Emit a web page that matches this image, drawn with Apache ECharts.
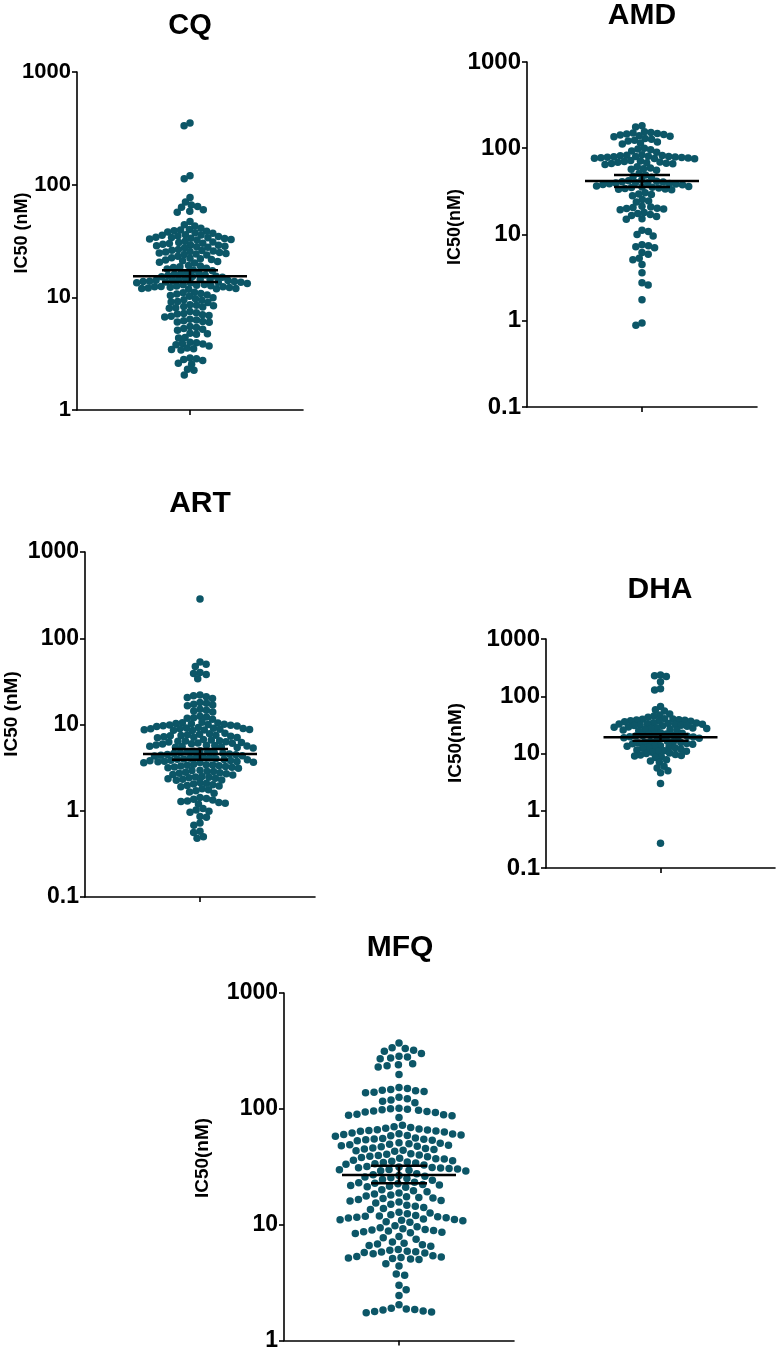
<!DOCTYPE html>
<html><head><meta charset="utf-8">
<script src="https://cdn.jsdelivr.net/npm/echarts@6/dist/echarts.min.js"></script>
<style>html,body{margin:0;padding:0;background:#fff}#c{width:778px;height:1352px}</style>
</head><body><div id="c"></div>
<script>
// ---------------- data ----------------
const panelNames = ['CQ', 'AMD', 'ART', 'DHA', 'MFQ'];
const axisNames = ['IC50 (nM)', 'IC50(nM)', 'IC50 (nM)', 'IC50(nM)', 'IC50(nM)'];

const cqTicks = [1, 10, 100, 1000];
const amdTicks = [0.1, 1, 10, 100, 1000];
const artTicks = [0.1, 1, 10, 100, 1000];
const dhaTicks = [0.1, 1, 10, 100, 1000];
const mfqTicks = [1, 10, 100, 1000];

const cqValues = [353, 334, 120, 113, 77, 70, 66, 64, 63, 60, 58, 57, 47, 44, 43, 41, 40, 39.5, 39, 38.5, 38, 37.5, 37,
  36, 35.8, 35.5, 35, 34.6, 34.2, 34, 33.8, 33.5, 33.2, 33, 32.6, 32.2, 31.5, 31, 30.6, 30.2, 30, 29.6, 29.2, 29, 28.7, 28.4, 28.1, 27.8,
  27.5, 26.6, 26.2, 26, 25.8, 25.5, 25.2, 25, 24.7, 24.5, 24.3, 24, 23.8, 23.2, 22.5, 22.2, 22, 21.7, 21.4, 21.1, 20.8, 20.5, 20.2,
  19.2, 19, 18.7, 18.4, 18.1, 17.8, 17.5, 17.2, 16.6, 16.4, 16.2, 16, 15.8, 15.6, 15.4, 15.3, 15.2, 15.1,
  14.6, 14.5, 14.4, 14.3, 14.2, 14.1, 14, 13.9, 13.8, 13.8, 13.7, 13.6, 13.6, 13.5, 13.4, 13.3,
  13, 12.9, 12.8, 12.7, 12.6, 12.5, 12.4, 12.4, 12.3, 12.2, 12.1, 12, 12, 11.9, 11.8,
  11.1, 11, 10.8, 10.7, 10.5, 10.4, 10.2, 9.9, 9.7, 9.5, 9.4, 9.2, 9.1, 9, 8.6, 8.5, 8.4, 8.3, 8.2, 8.1, 8,
  7.5, 7.3, 7.2, 7.1, 7, 6.9, 6.8, 6.7, 6.4, 6.3, 6.2, 6.1, 6.05, 6, 5.5, 5.4, 5.3, 5.2, 5.1,
  4.8, 4.75, 4.7, 4.4, 4.35, 4.0, 3.95, 3.9, 3.85, 3.8, 3.7, 3.55, 3.5, 3.45, 3.4,
  2.9, 2.85, 2.8, 2.75, 2.6, 2.55, 2.3, 2.25, 2.05];

const amdValues = [182, 176, 155, 152, 150, 148, 146, 144, 142, 140, 138, 136, 130, 127, 124, 121, 118, 115, 112,
  100, 98, 96, 93, 90, 84, 83, 82.5, 82, 81, 80.5, 80, 79.5, 79, 78.5, 78, 77.5, 77, 76.5, 76, 75.5,
  72, 71, 70, 69.5, 69, 68, 67, 66.5, 66, 65, 61, 59, 58, 57, 55.5, 51, 49, 47.5, 46,
  42.5, 42, 41.5, 41, 40.5, 40, 39.8, 39.5, 39, 38.8, 38.5, 38, 37.8, 36.5, 36, 35.5, 35.2, 35, 34.6, 34.2, 33.8, 33.4, 33,
  30.5, 29.5, 29, 28.2, 25.5, 24.5, 23.8, 21.2, 20.8, 20.5, 20.2, 20, 19.7, 19.4, 18, 17.5, 17, 16.6, 16.2, 15.2, 15,
  11.2, 10.8, 10, 9.6, 7.6, 7.4, 7.2, 7.0, 6.2, 5.9, 5.3, 5.1, 4.5, 3.6, 2.75, 2.6, 1.75, 0.94, 0.885];

const artValues = [286, 53, 50, 47, 40, 39, 38, 34, 22, 21.5, 21, 20.5, 20, 18, 17.6, 17.2, 16.8, 16.5, 15, 14.6, 14.3, 14,
  12.5, 12.2, 12, 11.8, 11.5,
  10.6, 10.5, 10.4, 10.3, 10.2, 10.1, 10, 9.9, 9.8, 9.7, 9.6, 9.5,
  9.2, 9.1, 9.05, 9, 8.95, 8.9, 8.8, 8.75, 8.7, 8.65, 8.6, 8.5,
  7.9, 7.8, 7.7, 7.6, 7.5, 7.45, 7.4, 7.3, 7.2, 7.1, 7.05, 7.0,
  6.7, 6.6, 6.5, 6.45, 6.4, 6.3, 6.25, 6.2, 6.1, 6.05, 6.0, 5.95,
  5.8, 5.75, 5.7, 5.65, 5.6, 5.55, 5.5, 5.45, 5.4, 5.35,
  4.95, 4.9, 4.85, 4.8, 4.75, 4.7, 4.65, 4.6, 4.55, 4.5, 4.45, 4.4, 4.35, 4.3, 4.25, 4.2,
  4.1, 4.05, 4.0, 3.98, 3.95, 3.92, 3.9, 3.86, 3.82, 3.8, 3.76, 3.72, 3.7, 3.66, 3.62, 3.6,
  3.45, 3.42, 3.4, 3.36, 3.32, 3.3, 3.26, 3.22, 3.2, 3.16, 3.12,
  2.95, 2.92, 2.88, 2.85, 2.8, 2.76, 2.72, 2.68, 2.64, 2.6,
  2.5, 2.47, 2.44, 2.41, 2.38, 2.35, 2.32, 2.28, 2.25,
  2.12, 2.08, 2.04, 2.0, 1.96, 1.93, 1.9, 1.8, 1.75, 1.7, 1.65, 1.6,
  1.42, 1.39, 1.36, 1.33, 1.3, 1.28, 1.25, 1.22, 1.2, 1.06, 1.02, 0.99, 0.96,
  0.86, 0.84, 0.72, 0.68, 0.58, 0.56, 0.5, 0.48];

const dhaValues = [235, 228, 222, 180, 135, 128, 66, 58, 55, 49, 47, 45, 43,
  40.5, 40, 39.5, 39, 38.5, 38, 37.5, 37, 36.5, 36,
  34.5, 34, 33.5, 33.2, 32.8, 32.4, 32, 31.6, 31.2, 30.8, 30.4, 30,
  29, 28.6, 28.2, 27.8, 27.4, 27, 26.6, 26.2, 25.8, 25.4, 25,
  23, 22.6, 22.2, 21.8, 21.4, 21, 20.6, 20.3, 20, 19.7, 19.4, 19.1, 18.8, 18.5, 18.2,
  16.6, 16.4, 16.2, 16, 15.8, 15.5, 15.2, 15, 14.8, 14.5,
  13.6, 13.4, 13.2, 13, 12.8, 12.6, 12.3, 12,
  11.5, 11.2, 11, 10.8, 10.5, 10.2, 10,
  9.6, 9.4, 9.2, 9, 8.8, 8.5, 7.8, 7.4, 7, 6, 5.6, 5, 4.6, 3, 0.27];

const mfqValues = [371, 336, 331, 321, 314, 300, 284, 280, 275, 271, 245, 240, 236, 230, 198,
  153, 150, 147, 145, 143, 141, 139, 138, 126, 122, 119, 116, 113,
  101, 100, 99, 98, 97, 96, 95, 94, 93, 90, 89, 88, 87, 84,
  72, 70, 69, 68, 67, 66, 65.5, 65, 64.5, 64, 63, 62,
  61, 60.5, 60, 59.5, 59, 58.5, 58, 56, 55.5, 55, 54.5, 54, 53.5, 53,
  51, 50.5, 50, 49.5, 49, 48.5, 48, 47.5, 47, 46, 45.5, 45, 44.5, 44, 43.5, 43,
  41, 40.5, 40, 39.5, 39, 38.5, 38, 37.5, 37, 36.8, 36, 35.6, 35.2, 34.8, 34.4, 34, 33.6, 33.2, 32.8,
  31.8, 31.5, 31.2, 31, 30.8, 30.5, 30.2, 30, 29.8, 29.5, 29.2, 29,
  27.5, 27, 26.6, 26.2, 25.8, 25.4, 25, 24.6, 24.2,
  23.2, 23, 22.8, 22.5, 22.2, 22, 21.8, 21.5, 21.2, 21,
  20, 19.6, 19.2, 18.8, 18.4, 18, 17.7, 17.4, 17.2, 17, 16.8, 16.5, 16.2, 16, 15.7, 15.4,
  15, 14.7, 14.4, 14.1, 13.8, 13.5,
  12.8, 12.6, 12.4, 12.2, 12, 11.9, 11.8, 11.7, 11.6, 11.5, 11.4, 11.2, 11.1, 11, 10.9, 10.8, 10.6, 10.5,
  9.8, 9.6, 9.4, 9.2, 9.1, 9, 8.9, 8.8, 8.7, 8.6, 8.5, 8.4, 7.9, 7.7, 7.5,
  7.1, 6.9, 6.8, 6.7, 6.6, 6.5, 6.1, 6, 5.9, 5.85, 5.8, 5.75, 5.7, 5.6,
  5.4, 5.3, 5.25, 5.2, 5.15, 5.1, 5.05, 5, 4.6, 4.4, 3.75, 3.65, 3.0, 2.74, 2.45, 2.04,
  1.9, 1.87, 1.85, 1.83, 1.8, 1.78, 1.76, 1.74];

// mean and error bar (lower / upper)
const meanValues = [15.4, 41.7, 4.55, 19.2, 26.9];
const errLow = [13.7, 35.6, 3.9, 16.7, 22.8];
const errHigh = [17.4, 49, 5.2, 21.6, 32.3];

const allValues = [cqValues, amdValues, artValues, dhaValues, mfqValues];
const allTicks = [cqTicks, amdTicks, artTicks, dhaTicks, mfqTicks];

// ---------------- layout / style ----------------
const FONT = '"Liberation Sans", Arial, Helvetica, sans-serif';
const DOT = '#0c5667';
const layouts = [
  {left: 77, top: 72, width: 226, height: 338, tx: 190, ty: 26, tf: 29, nx: 22, ny: 233, nf: 18, lf: 22, d: 6.5},
  {left: 527, top: 62, width: 230, height: 345, tx: 642, ty: 16, tf: 30, nx: 455, ny: 227, nf: 18, lf: 24, d: 6.5},
  {left: 85, top: 552, width: 230, height: 345, tx: 200, ty: 504, tf: 30, nx: 12, ny: 714, nf: 19, lf: 23, d: 6.5},
  {left: 546, top: 639, width: 229, height: 229, tx: 660, ty: 590, tf: 30, nx: 456, ny: 743, nf: 19, lf: 24, d: 6},
  {left: 284, top: 993, width: 230, height: 348, tx: 400, ty: 948, tf: 30, nx: 203, ny: 1158, nf: 19, lf: 23, d: 8.5}
];
const MEAN_HALF = 57, ERR_HALF = 28;

// beeswarm offsets (pixel units) computed from the axis scale of each panel
function swarm(values, logMin, logMax, heightPx, d) {
  const k = heightPx / (logMax - logMin);
  const pts = values.map(v => ({y: (logMax - Math.log10(v)) * k, x: 0}));
  const order = pts.map((p, i) => i).sort((a, b) => pts[a].y - pts[b].y);
  const placed = [];
  order.forEach((i, n) => {
    const p = pts[i];
    const near = placed.filter(q => Math.abs(q.y - p.y) < d);
    const cands = [0];
    near.forEach(q => {
      const dx = Math.sqrt(d * d - (q.y - p.y) * (q.y - p.y));
      cands.push(q.x + dx, q.x - dx);
    });
    const sgn = n % 2 ? 1 : -1;
    cands.sort((a, b) => (Math.abs(a) - Math.abs(b)) || sgn * (a - b));
    for (const c of cands) {
      if (near.every(q => (q.x - c) * (q.x - c) + (q.y - p.y) * (q.y - p.y) >= d * d - 1e-6)) { p.x = c; break; }
    }
    placed.push(p);
  });
  return pts.map(p => p.x);
}

const grids = [], xAxes = [], yAxes = [], series = [], graphics = [];
layouts.forEach((L, i) => {
  const ticks = allTicks[i];
  const yMin = ticks[0], yMax = ticks[ticks.length - 1];
  grids.push({left: L.left, top: L.top, width: L.width, height: L.height, containLabel: false});
  const half = L.width / 2;
  xAxes.push({
    gridIndex: i, type: 'value', min: -half, max: half,
    axisLine: {show: true, onZero: false, lineStyle: {color: '#000', width: 1.6}},
    axisTick: {show: true, customValues: [0], length: 5, lineStyle: {color: '#000', width: 1.6}},
    axisLabel: {show: false}, splitLine: {show: false}
  });
  yAxes.push({
    gridIndex: i, type: 'log', logBase: 10, min: yMin, max: yMax,
    axisLine: {show: true, onZero: false, lineStyle: {color: '#000', width: 1.6}},
    axisTick: {show: true, length: 5, customValues: ticks, lineStyle: {color: '#000', width: 1.6}},
    axisLabel: {
      customValues: ticks, margin: 6, color: '#000', fontSize: L.lf, fontWeight: 'bold', fontFamily: FONT,
      formatter: v => String(parseFloat(Number(v).toPrecision(4)))
    },
    splitLine: {show: false}, minorTick: {show: false}
  });
  const vals = allValues[i];
  const xs = swarm(vals, Math.log10(yMin), Math.log10(yMax), L.height, L.d);
  series.push({
    type: 'scatter', xAxisIndex: i, yAxisIndex: i, symbol: 'circle', symbolSize: 7.5,
    itemStyle: {color: DOT, opacity: 1}, data: vals.map((v, j) => [xs[j], v]), z: 2, silent: true
  });
  const lineSeg = (pts, w) => ({
    type: 'line', xAxisIndex: i, yAxisIndex: i, data: pts, symbol: 'none', z: 5, silent: true,
    lineStyle: {color: '#000', width: w}, animation: false
  });
  series.push(lineSeg([[-MEAN_HALF, meanValues[i]], [MEAN_HALF, meanValues[i]]], 2.5));
  series.push(lineSeg([[-ERR_HALF, errHigh[i]], [ERR_HALF, errHigh[i]]], 2.5));
  series.push(lineSeg([[-ERR_HALF, errLow[i]], [ERR_HALF, errLow[i]]], 2.5));
  series.push(lineSeg([[0, errLow[i]], [0, errHigh[i]]], 2.5));
  graphics.push({type: 'text', x: L.tx, y: L.ty, style: {text: panelNames[i], font: 'bold ' + L.tf + 'px ' + FONT, fill: '#000', align: 'center', verticalAlign: 'middle'}});
  graphics.push({type: 'text', x: L.nx, y: L.ny, rotation: Math.PI / 2, style: {text: axisNames[i], font: 'bold ' + L.nf + 'px ' + FONT, fill: '#000', align: 'center', verticalAlign: 'middle'}});
});

const chart = echarts.init(document.getElementById('c'), null, {renderer: 'canvas'});
chart.setOption({
  backgroundColor: '#fff', animation: false,
  grid: grids, xAxis: xAxes, yAxis: yAxes, series: series, graphic: graphics
});
</script></body></html>
